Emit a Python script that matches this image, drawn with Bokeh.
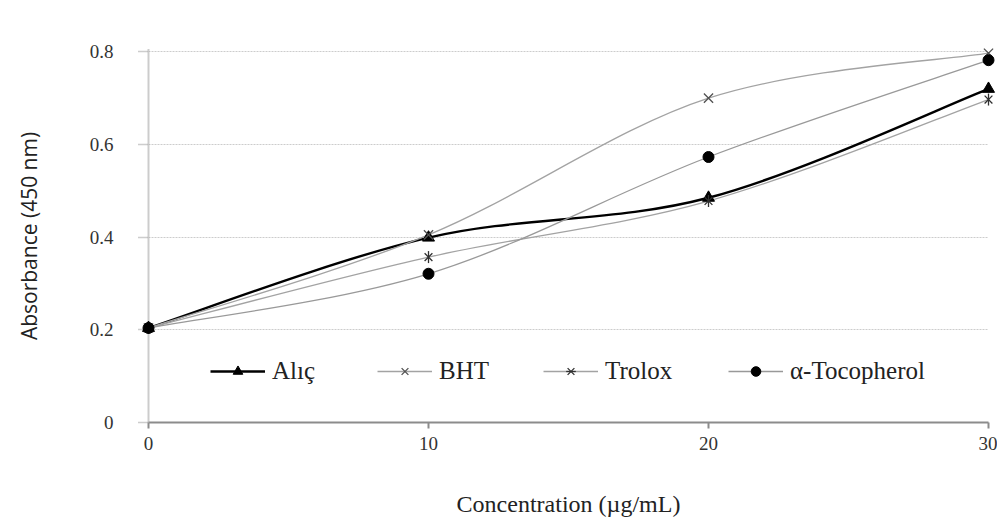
import math
from bokeh.plotting import figure
from bokeh.models import Range1d, FixedTicker, Legend, LegendItem, ColumnDataSource
from bokeh.embed import file_html
from bokeh.resources import INLINE

# ---- data ----
conc = [0, 10, 20, 30]
alic = [0.204, 0.399, 0.485, 0.720]
bht = [0.204, 0.405, 0.700, 0.797]
trolox = [0.204, 0.357, 0.478, 0.697]
tocopherol = [0.204, 0.321, 0.573, 0.782]
series_names = ["Alıç", "BHT", "Trolox", "α-Tocopherol"]
x_ticks = [0, 10, 20, 30]
x_tick_labels = ["0", "10", "20", "30"]
y_ticks = [0, 0.2, 0.4, 0.6, 0.8]
y_tick_labels = ["0", "0.2", "0.4", "0.6", "0.8"]
x_title = "Concentration (µg/mL)"
y_title = "Absorbance (450 nm)"


def smooth(xs, ys):
    """Bezier control points for a smoothed (Catmull-Rom style) line through the points."""
    n = len(xs)
    d = dict(x0=[], y0=[], x1=[], y1=[], cx0=[], cy0=[], cx1=[], cy1=[])
    for i in range(n - 1):
        a = max(i - 1, 0)
        b = min(i + 2, n - 1)
        d["x0"].append(xs[i]); d["y0"].append(ys[i])
        d["x1"].append(xs[i + 1]); d["y1"].append(ys[i + 1])
        d["cx0"].append(xs[i] + (xs[i + 1] - xs[a]) / 6)
        d["cy0"].append(ys[i] + (ys[i + 1] - ys[a]) / 6)
        d["cx1"].append(xs[i + 1] - (xs[b] - xs[i]) / 6)
        d["cy1"].append(ys[i + 1] - (ys[b] - ys[i]) / 6)
    return d


p = figure(width=997, height=525, x_range=Range1d(0, 30), y_range=Range1d(0, 0.805),
           output_backend="svg", toolbar_location=None,
           min_border_left=148, min_border_right=9, min_border_top=49, min_border_bottom=103)
p.outline_line_color = None
p.background_fill_color = "white"
p.border_fill_color = "white"

# grid
p.xgrid.visible = False
p.ygrid.ticker = FixedTicker(ticks=y_ticks)
p.ygrid.grid_line_color = "#cccccc"
p.ygrid.grid_line_width = 1
p.ygrid.grid_line_dash = "2 1"

# x axis
xa = p.xaxis[0]
xa.ticker = FixedTicker(ticks=x_ticks)
xa.major_label_overrides = {t: l for t, l in zip(x_ticks, x_tick_labels)}
xa.axis_line_color = "#8c8c8c"
xa.axis_line_width = 2
xa.major_tick_line_color = "#8c8c8c"
xa.major_tick_line_width = 2
xa.major_tick_in = 0
xa.major_tick_out = 6
xa.minor_tick_line_color = None
xa.major_label_text_font = "Liberation Serif"
xa.major_label_text_font_size = "19px"
xa.major_label_text_color = "#333333"
xa.major_label_standoff = 8
xa.axis_label = x_title
xa.axis_label_text_font = "Liberation Serif"
xa.axis_label_text_font_size = "24px"
xa.axis_label_text_font_style = "normal"
xa.axis_label_text_color = "#222222"
xa.axis_label_standoff = 38

# y axis
ya = p.yaxis[0]
ya.ticker = FixedTicker(ticks=y_ticks)
ya.major_label_overrides = {t: l for t, l in zip(y_ticks, y_tick_labels)}
ya.axis_line_color = "#9a9a9a"
ya.axis_line_width = 2
ya.axis_line_dash = "1 1"
ya.major_tick_line_color = "#9a9a9a"
ya.major_tick_line_width = 1.5
ya.major_tick_line_dash = "1 1"
ya.major_tick_in = 0
ya.major_tick_out = 10
ya.minor_tick_line_color = None
ya.major_label_text_font = "Liberation Serif"
ya.major_label_text_font_size = "19px"
ya.major_label_text_color = "#333333"
ya.major_label_standoff = 25
ya.axis_label = y_title
ya.axis_label_text_font = "Open Sans"
ya.axis_label_text_font_size = "21px"
ya.axis_label_text_font_style = "normal"
ya.axis_label_text_color = "#222222"
ya.axis_label_standoff = 44

series = [alic, bht, trolox, tocopherol]
line_styles = [
    dict(line_color="black", line_width=2.4),
    dict(line_color="#a3a3a3", line_width=1.3),
    dict(line_color="#a3a3a3", line_width=1.3),
    dict(line_color="#999999", line_width=1.3),
]

curves = []
for ys, ls in zip(series, line_styles):
    src = ColumnDataSource(smooth(conc, ys))
    curves.append(p.bezier(x0="x0", y0="y0", x1="x1", y1="y1", cx0="cx0", cy0="cy0",
                           cx1="cx1", cy1="cy1", source=src, level="overlay", **ls))

marks = []
m0 = p.scatter(conc, alic, marker="triangle", size=12, fill_color="black", line_color="black",
               level="overlay")
marks.append([m0])
m1 = p.scatter(conc, bht, marker="x", size=13, line_color="#505050", line_width=1.3,
               level="overlay")
marks.append([m1])
m2a = p.scatter(conc, trolox, marker="x", size=11, line_color="#303030", line_width=1.3,
                level="overlay")
m2b = p.scatter(conc, trolox, marker="dash", angle=math.pi / 2, size=12, line_color="#303030",
                line_width=1.3, level="overlay")
marks.append([m2a, m2b])
m3 = p.scatter(conc, tocopherol, marker="circle", size=11, fill_color="black", line_color="black",
               level="overlay")
marks.append([m3])

legend_x = [62, 229, 395, 580]
for name, cr, mk, lx in zip(series_names, curves, marks, legend_x):
    lg = Legend(items=[LegendItem(label=name, renderers=[cr] + mk)], location=(lx, 37),
                orientation="horizontal", padding=0, margin=0, border_line_color=None,
                background_fill_alpha=0, glyph_width=55, glyph_height=24, label_height=24,
                label_standoff=7, label_text_font="Liberation Serif",
                label_text_font_size="25px", label_text_color="#222222")
    p.add_layout(lg)

open("out.html", "w").write(file_html(p, INLINE))
